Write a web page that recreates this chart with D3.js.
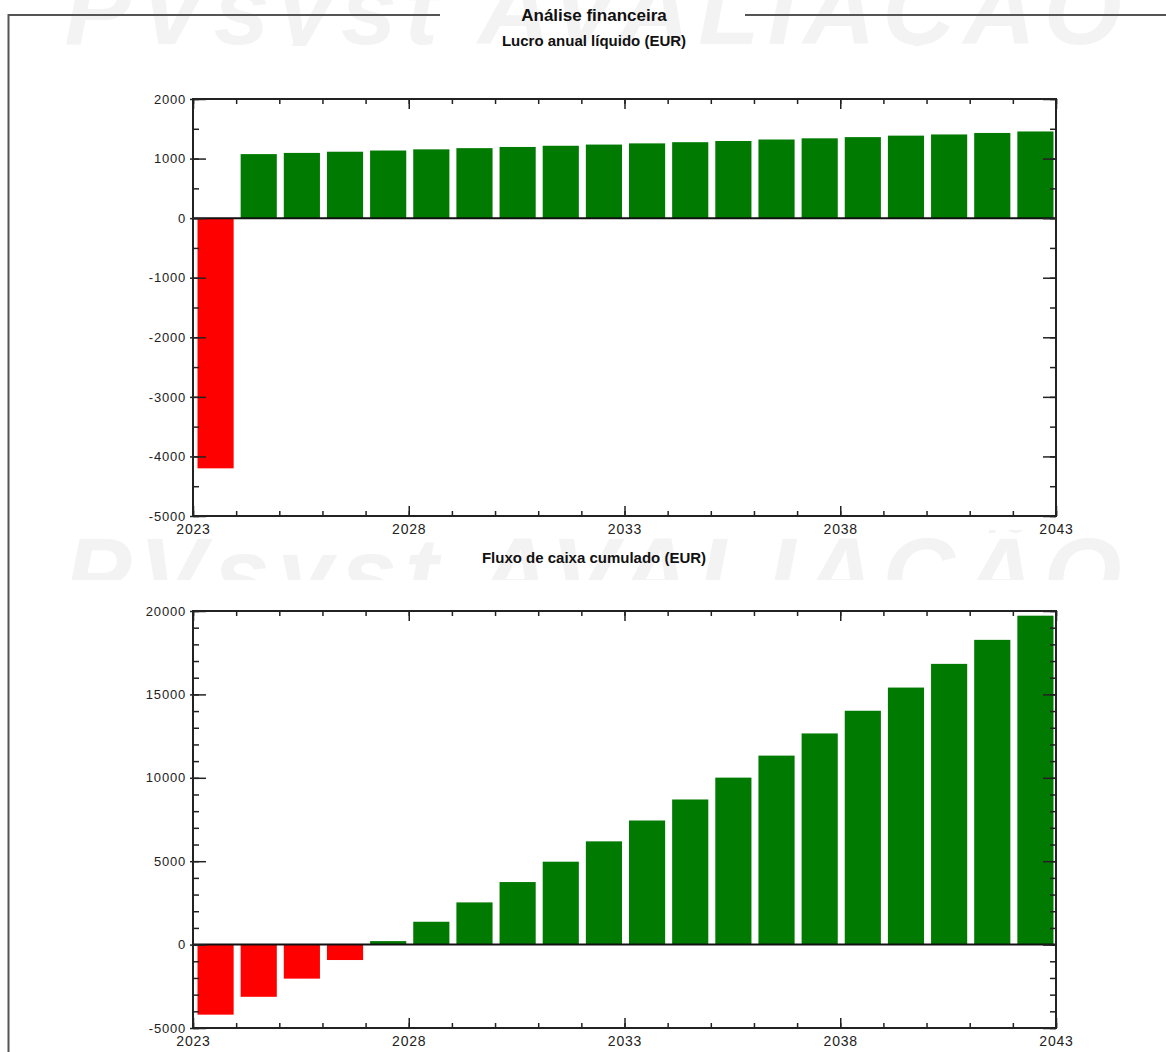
<!DOCTYPE html>
<html>
<head>
<meta charset="utf-8">
<script src="https://cdn.jsdelivr.net/npm/d3@7"></script>
<style>
  body { margin: 0; background: #fff; }
  svg { display: block; font-family: "Liberation Sans", Arial, sans-serif; }
  .tick text { fill: #222; }
</style>
</head>
<body>
<svg width="1166" height="1052"></svg>
<script>
// chart values
var years = [2023, 2024, 2025, 2026, 2027, 2028, 2029, 2030, 2031, 2032,
             2033, 2034, 2035, 2036, 2037, 2038, 2039, 2040, 2041, 2042];
var netProfit = [-4200, 1075, 1095, 1115, 1135, 1155, 1175, 1195, 1215, 1235,
                 1255, 1275, 1295, 1320, 1340, 1360, 1385, 1405, 1430, 1455];
var cumulative = [-4200, -3130, -2040, -925, 210, 1370, 2530, 3750, 4970, 6190,
                  7440, 8700, 10010, 11330, 12660, 14020, 15410, 16830, 18270, 19720];
var xTicks = [2023, 2028, 2033, 2038, 2043];
var yTicksTop = [-5000, -4000, -3000, -2000, -1000, 0, 1000, 2000];
var yTicksBottom = [-5000, 0, 5000, 10000, 15000, 20000];

var svg = d3.select("svg");

// watermark, only partly visible
var clip = svg.append("defs");
clip.append("clipPath").attr("id", "wm1").append("rect")
  .attr("x", 0).attr("y", 0).attr("width", 1166).attr("height", 46);
clip.append("clipPath").attr("id", "wm2").append("rect")
  .attr("x", 0).attr("y", 530).attr("width", 1166).attr("height", 50);

[[44, "wm1"], [608, "wm2"]].forEach(function(w) {
  svg.append("text")
    .attr("clip-path", "url(#" + w[1] + ")")
    .attr("x", 597).attr("y", w[0])
    .attr("text-anchor", "middle")
    .style("font-size", "100px")
    .style("font-weight", "bold")
    .style("font-style", "italic")
    .style("letter-spacing", "8px")
    .style("fill", "#f3f3f3")
    .text("PVsyst AVALIAÇÃO");
});

// outer frame
svg.append("path")
  .attr("d", "M1166,15H745M440,15H8.5V1052")
  .attr("fill", "none").attr("stroke", "#555").attr("stroke-width", 2);

svg.append("text").attr("x", 594).attr("y", 21)
  .attr("text-anchor", "middle")
  .style("font-size", "17px").style("font-weight", "bold").style("fill", "#111")
  .text("Análise financeira");

var x = d3.scaleLinear().domain([2023, 2043]).range([193, 1056]);
var fmt = function(d) { return String(d); };

function drawChart(title, titleY, top, bottom, values, domain, majorY, minorStep) {
  var y = d3.scaleLinear().domain(domain).range([bottom, top]);
  var minorY = d3.range(domain[0], domain[1] + 1, minorStep);

  svg.append("text").attr("x", 594).attr("y", titleY)
    .attr("text-anchor", "middle")
    .style("font-size", "15px").style("font-weight", "bold").style("fill", "#111")
    .text(title);

  // bars
  svg.append("g").selectAll("rect").data(values).enter().append("rect")
    .attr("x", function(d, i) { return x(years[i]) + 4.5; })
    .attr("width", function(d, i) { return x(years[i] + 1) - x(years[i]) - 7; })
    .attr("y", function(d) { return y(Math.max(0, d)); })
    .attr("height", function(d) { return Math.abs(y(d) - y(0)); })
    .attr("fill", function(d) { return d < 0 ? "#ff0000" : "#007a00"; });

  // zero line
  svg.append("line")
    .attr("x1", x.range()[0]).attr("x2", x.range()[1])
    .attr("y1", y(0)).attr("y2", y(0))
    .attr("stroke", "#111").attr("stroke-width", 2);

  function clean(g) { g.select(".domain").remove(); g.selectAll("line").attr("stroke", "#222").attr("stroke-width", 1.5); }

  // left axis with labels
  svg.append("g").attr("transform", "translate(193,0)")
    .call(d3.axisLeft(y).tickValues(majorY).tickSize(-13).tickPadding(7).tickFormat(fmt))
    .call(clean)
    .call(function(g) {
      g.selectAll("text").style("font-size", "13px").style("letter-spacing", "0.8px");
      g.selectAll("line").attr("x1", -3);
    });
  svg.append("g").attr("transform", "translate(193,0)")
    .call(d3.axisLeft(y).tickValues(minorY).tickSize(-6).tickFormat(""))
    .call(clean);

  // right axis
  svg.append("g").attr("transform", "translate(1056,0)")
    .call(d3.axisRight(y).tickValues(majorY).tickSize(-13).tickFormat(""))
    .call(clean);
  svg.append("g").attr("transform", "translate(1056,0)")
    .call(d3.axisRight(y).tickValues(minorY).tickSize(-6).tickFormat(""))
    .call(clean);

  // bottom axis with labels
  svg.append("g").attr("transform", "translate(0," + bottom + ")")
    .call(d3.axisBottom(x).tickValues(xTicks).tickSize(-10).tickPadding(8).tickFormat(fmt))
    .call(clean)
    .call(function(g) { g.selectAll("text").style("font-size", "14px").style("letter-spacing", "0.8px"); });
  svg.append("g").attr("transform", "translate(0," + bottom + ")")
    .call(d3.axisBottom(x).tickValues(d3.range(2023, 2044)).tickSize(-5).tickFormat(""))
    .call(clean);

  // top axis
  svg.append("g").attr("transform", "translate(0," + top + ")")
    .call(d3.axisTop(x).tickValues(xTicks).tickSize(-10).tickFormat(""))
    .call(clean);
  svg.append("g").attr("transform", "translate(0," + top + ")")
    .call(d3.axisTop(x).tickValues(d3.range(2023, 2044)).tickSize(-5).tickFormat(""))
    .call(clean);

  // plot frame
  svg.append("rect")
    .attr("x", x.range()[0]).attr("y", top)
    .attr("width", x.range()[1] - x.range()[0]).attr("height", bottom - top)
    .attr("fill", "none").attr("stroke", "#222").attr("stroke-width", 2);
}

drawChart("Lucro anual líquido (EUR)", 46, 99, 516, netProfit, [-5000, 2000], yTicksTop, 500);
drawChart("Fluxo de caixa cumulado (EUR)", 563, 611, 1028, cumulative, [-5000, 20000], yTicksBottom, 1000);
</script>
</body>
</html>
